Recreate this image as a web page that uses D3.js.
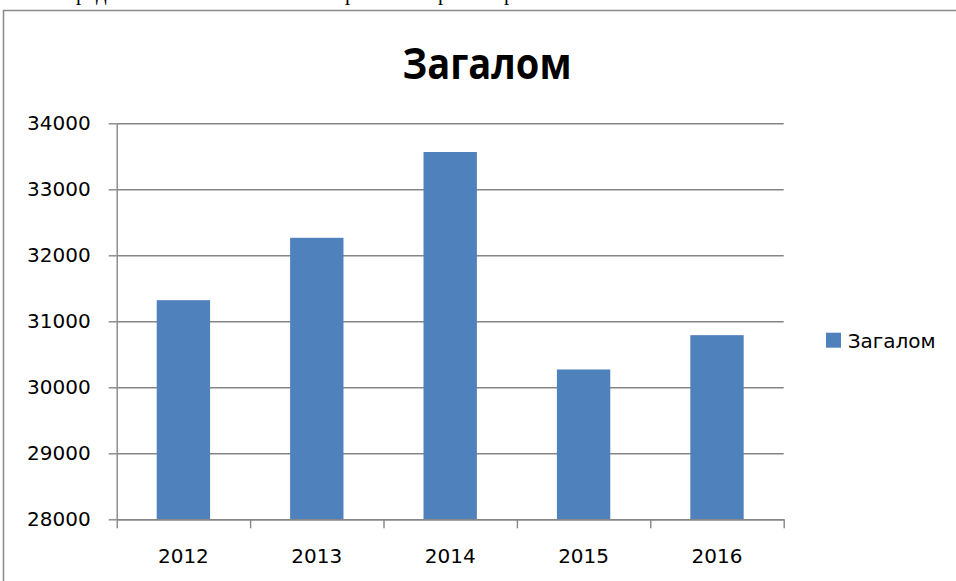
<!DOCTYPE html>
<html>
<head>
<meta charset="utf-8">
<script src="https://cdn.jsdelivr.net/npm/d3@7"></script>
<style>
  body { margin: 0; background: #fff; }
  svg { display: block; }
</style>
</head>
<body>
<div class="chart"></div>
<script>
// chart data
var years = ["2012", "2013", "2014", "2015", "2016"];
var totals = [31320, 32265, 33565, 30270, 30790];
var yTicks = [28000, 29000, 30000, 31000, 32000, 33000, 34000];
var seriesName = "Загалом";
var chartTitle = "Загалом";

var svgWidth = 956;
var svgHeight = 581;

var svg = d3.select(".chart")
  .append("svg")
  .attr("width", svgWidth)
  .attr("height", svgHeight);

// bits of the document line above the chart (only descenders show)
var docGlyphs = [{t: "р", x: 76}, {t: "д", x: 96}, {t: "р", x: 345}, {t: "р", x: 438}, {t: "р", x: 504}];
svg.selectAll(".doc")
  .data(docGlyphs)
  .enter()
  .append("text")
  .attr("class", "doc")
  .attr("x", d => d.x)
  .attr("y", 0)
  .attr("font-family", "Liberation Serif")
  .attr("font-size", "21px")
  .attr("fill", "#000")
  .text(d => d.t);

// chart border (runs past the window on right and bottom)
svg.append("rect")
  .attr("x", 3.5)
  .attr("y", 10.5)
  .attr("width", 1000)
  .attr("height", 700)
  .attr("fill", "none")
  .attr("stroke", "#8a8a8a")
  .attr("stroke-width", 1.5);

// plot area edges
var plotLeft = 116.7, plotRight = 783.7, plotTop = 123.3, plotBottom = 519.3;

var yScale = d3.scaleLinear()
  .domain([28000, 34000])
  .range([plotBottom, plotTop]);

var xBand = d3.scaleBand()
  .domain(years)
  .range([plotLeft, plotRight])
  .paddingInner(0.6)
  .paddingOuter(0.3);

var xCat = d3.scaleBand()
  .domain(years)
  .range([plotLeft, plotRight])
  .padding(0);

var xEdge = d3.scaleLinear()
  .domain([0, years.length])
  .range([plotLeft, plotRight]);

var grey = "#868686";

// gridlines
var grid = svg.append("g")
  .attr("transform", `translate(${plotLeft},0)`)
  .call(d3.axisLeft(yScale).tickValues(yTicks).tickSize(-(plotRight - plotLeft)).tickFormat(""));
grid.select(".domain").remove();
grid.selectAll("line").attr("stroke", grey).attr("stroke-width", 1.4);

// bars
svg.selectAll(".bar")
  .data(totals)
  .enter()
  .append("rect")
  .attr("class", "bar")
  .attr("x", (d, i) => xBand(years[i]))
  .attr("y", d => yScale(d))
  .attr("width", xBand.bandwidth())
  .attr("height", d => plotBottom - yScale(d))
  .attr("fill", "#4f81bd");

// y axis
var yAxis = svg.append("g")
  .attr("transform", `translate(${plotLeft},0)`)
  .call(d3.axisLeft(yScale).tickValues(yTicks).tickSize(8).tickSizeOuter(0).tickPadding(18).tickFormat(d3.format("d")));
yAxis.selectAll("line, path").attr("stroke", grey).attr("stroke-width", 1.4);
yAxis.selectAll("text")
  .attr("font-family", "DejaVu Sans")
  .attr("font-size", "20px")
  .attr("fill", "#000");

// x axis: ticks between categories
var xAxis = svg.append("g")
  .attr("transform", `translate(0,${plotBottom})`)
  .call(d3.axisBottom(xEdge).tickValues(d3.range(years.length + 1)).tickSize(9).tickFormat("").tickSizeOuter(0));
xAxis.selectAll("line, path").attr("stroke", grey).attr("stroke-width", 1.4);

var xLabels = svg.append("g")
  .attr("transform", `translate(0,${plotBottom})`)
  .call(d3.axisBottom(xCat).tickSize(0));
xLabels.select(".domain").remove();
xLabels.selectAll("text")
  .attr("y", 44)
  .attr("dy", 0)
  .attr("font-family", "DejaVu Sans")
  .attr("font-size", "20px")
  .attr("fill", "#000");

// title
svg.append("text")
  .attr("x", 487)
  .attr("y", 79.3)
  .attr("text-anchor", "middle")
  .attr("font-family", "Open Sans")
  .attr("font-weight", "bold")
  .attr("font-size", "43px")
  .attr("textLength", 169)
  .attr("lengthAdjust", "spacingAndGlyphs")
  .attr("fill", "#000")
  .text(chartTitle);

// legend
var legend = svg.append("g");
legend.append("rect")
  .attr("x", 826)
  .attr("y", 332.7)
  .attr("width", 15)
  .attr("height", 15)
  .attr("fill", "#4f81bd");
legend.append("text")
  .attr("x", 847.7)
  .attr("y", 348)
  .attr("font-family", "DejaVu Sans")
  .attr("font-size", "20px")
  .attr("fill", "#000")
  .text(seriesName);
</script>
</body>
</html>
